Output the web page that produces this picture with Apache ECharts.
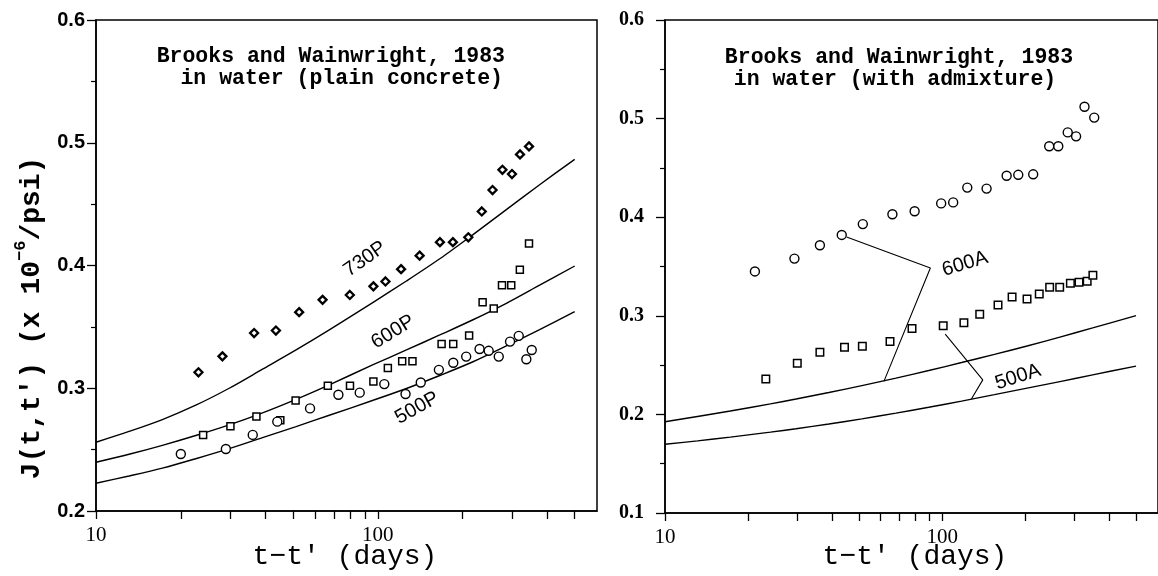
<!DOCTYPE html>
<html><head><meta charset="utf-8">
<script src="https://cdn.jsdelivr.net/npm/echarts@6/dist/echarts.min.js"></script>
<style>html,body{margin:0;padding:0;background:#fff}#c{width:1158px;height:576px}</style>
</head><body><div id="c"></div>
<script>
// ---------- Left panel: plain concrete ----------
const p730X = [23.1, 28.1, 36.4, 43.5, 52.6, 63.7, 79.6, 96.5, 106.5, 121, 140.8, 166.2, 184.8, 209.6, 234, 255.5, 277, 299.5, 319.8, 344.2];
const p730Y = [0.313, 0.326, 0.345, 0.347, 0.362, 0.372, 0.376, 0.383, 0.387, 0.397, 0.408, 0.419, 0.419, 0.423, 0.444, 0.4615, 0.478, 0.4745, 0.4905, 0.497];
const p600X = [24.0, 30.0, 37.1, 45.1, 51.1, 66.5, 79.7, 96.5, 108.6, 122.1, 132.8, 168.5, 185.3, 211, 235.6, 258, 276, 297.7, 319.4, 344.2];
const p600Y = [0.262, 0.269, 0.277, 0.274, 0.290, 0.302, 0.302, 0.3055, 0.3165, 0.322, 0.322, 0.336, 0.336, 0.343, 0.370, 0.365, 0.384, 0.384, 0.3965, 0.418];
const p500X = [20.0, 28.9, 36.0, 44.0, 57.5, 72.5, 86.3, 105.5, 125.5, 142.1, 164.8, 185.4, 206, 229.8, 247.6, 268.8, 294.8, 316.5, 336.8, 352];
const p500Y = [0.2464, 0.2505, 0.262, 0.2728, 0.2836, 0.2947, 0.2964, 0.3034, 0.2953, 0.3047, 0.315, 0.3208, 0.3258, 0.332, 0.3305, 0.3258, 0.338, 0.3427, 0.3236, 0.3312];

const curveLX = [10, 13.1, 17.2, 22.6, 29.7, 39, 51.3, 67.3, 96.3, 126.4, 166, 217.8, 286, 375.4, 500];
const c730 = [0.256, 0.2648, 0.2745, 0.2862, 0.3000, 0.3155, 0.3312, 0.3475, 0.3700, 0.3874, 0.4055, 0.4252, 0.4455, 0.4658, 0.4865];
const c600 = [0.2397, 0.2462, 0.2535, 0.2615, 0.2702, 0.2800, 0.2910, 0.3028, 0.3192, 0.3312, 0.3434, 0.3558, 0.3692, 0.3840, 0.3996];
const c500 = [0.2226, 0.2285, 0.2349, 0.2426, 0.2508, 0.2598, 0.2688, 0.2780, 0.2902, 0.2998, 0.3104, 0.3216, 0.3345, 0.3478, 0.3625];

// ---------- Right panel: with admixture ----------
const a600X = [21.1, 29.3, 36.2, 43.4, 51.7, 66.1, 79.5, 99.1, 109.5, 123.1, 144.5, 170.7, 188, 212.8, 243.1, 262.1, 283.5, 303.9, 325.9, 353.3];
const a600Y = [0.345, 0.358, 0.3715, 0.382, 0.393, 0.403, 0.406, 0.414, 0.415, 0.430, 0.429, 0.442, 0.443, 0.4435, 0.472, 0.472, 0.486, 0.482, 0.512, 0.501];
const a500X = [23.1, 30.0, 36.2, 44.4, 51.5, 64.8, 77.8, 100.8, 119.7, 136.5, 158.9, 178.6, 202.2, 223.8, 244, 265.2, 289.8, 311.4, 333.2, 349.4];
const a500Y = [0.236, 0.252, 0.263, 0.268, 0.269, 0.274, 0.287, 0.290, 0.293, 0.3015, 0.311, 0.319, 0.317, 0.322, 0.329, 0.329, 0.333, 0.334, 0.335, 0.341];

const curveRX = [10, 13.1, 17.2, 24, 29.7, 39, 51.3, 68.1, 89.4, 117.4, 154.2, 202.3, 265.7, 348.8, 500];
const cA600 = [0.1926, 0.1979, 0.2035, 0.2107, 0.2156, 0.2222, 0.2292, 0.2368, 0.2445, 0.2526, 0.2609, 0.2694, 0.2784, 0.2877, 0.3002];
const cA500 = [0.1697, 0.1732, 0.1770, 0.1820, 0.1855, 0.1903, 0.1955, 0.2013, 0.2072, 0.2135, 0.2200, 0.2266, 0.2333, 0.2401, 0.2490];

// leader lines of the labels 600A / 500A (data coordinates)
const lead600X = [45.2, 90.6, 61.6];
const lead600Y = [0.380, 0.3485, 0.2335];
const lead500X = [102.5, 140.0, 127.4];
const lead500Y = [0.2815, 0.2350, 0.2156];

// axis ticks
const xTickDays = [10, 20, 30, 40, 50, 60, 70, 80, 90, 100, 200, 300, 400, 500];
const xLabelDays = [10, 100];
const xMaxDays = 600;

// ---------- chart ----------
const zip = (xs, ys) => xs.map((x, i) => [x, ys[i]]);
const BLACK = '#000';
const chart = echarts.init(document.getElementById('c'), null, {renderer: 'canvas'});

function logX(grid) {
  return {
    type: 'log', logBase: 10, gridIndex: grid, min: 10, max: xMaxDays,
    axisLine: {show: true, onZero: false, lineStyle: {color: BLACK, width: 1.5}},
    axisTick: {show: false}, minorTick: {show: false},
    splitLine: {show: false}, minorSplitLine: {show: false},
    axisLabel: {
      show: true, margin: 14, color: BLACK, fontFamily: 'Liberation Serif', fontSize: 21,
      showMaxLabel: false,
      formatter: v => xLabelDays.some(d => Math.abs(d - v) < 1e-6) ? String(Math.round(v)) : ''
    }
  };
}
function tickX(grid) {
  return {
    type: 'value', gridIndex: grid, min: Math.log10(10), max: Math.log10(xMaxDays),
    axisLine: {show: false}, splitLine: {show: false}, axisLabel: {show: false},
    axisTick: {show: true, length: 8, customValues: xTickDays.map(d => Math.log10(d)),
      lineStyle: {color: BLACK, width: 1.3}}
  };
}
function valY(grid, min, max, labelFont, margin) {
  return {
    type: 'value', gridIndex: grid, min: min, max: max, interval: 0.1,
    axisLine: {show: true, onZero: false, lineStyle: {color: BLACK, width: 1.5}},
    axisTick: {show: true, length: 9, lineStyle: {color: BLACK, width: 1.3}},
    minorTick: {show: true, splitNumber: 2, length: 5, lineStyle: {color: BLACK, width: 1.2}},
    splitLine: {show: false}, minorSplitLine: {show: false},
    axisLabel: {show: true, margin: margin, color: BLACK, fontWeight: 'bold',
      fontFamily: labelFont, fontSize: 20, formatter: v => v.toFixed(1)}
  };
}
const hidY = g => ({type: 'value', gridIndex: g, min: 0, max: 1, show: false});

function curve(xi, xs, ys) {
  return {type: 'line', xAxisIndex: xi, yAxisIndex: xi, data: zip(xs, ys), showSymbol: false,
    symbol: 'none', smooth: 0.3, lineStyle: {color: BLACK, width: 1.4}, silent: true, z: 3};
}
function leader(xi, xs, ys) {
  return {type: 'line', xAxisIndex: xi, yAxisIndex: xi, data: zip(xs, ys), showSymbol: false,
    symbol: 'none', lineStyle: {color: BLACK, width: 1.1}, silent: true, z: 3};
}
function pts(xi, xs, ys, symbol, size, bw) {
  return {type: 'scatter', xAxisIndex: xi, yAxisIndex: xi, data: zip(xs, ys), symbol: symbol,
    symbolSize: size, itemStyle: {color: '#fff', borderColor: BLACK, borderWidth: bw, opacity: 1},
    silent: true, z: 4};
}
function txt(x, y, text, font, rotDeg, align) {
  return {type: 'text', x: x, y: y, rotation: (rotDeg || 0) * Math.PI / 180, z: 10,
    style: {text: text, font: font, fill: BLACK, align: align || 'center', verticalAlign: 'middle'}};
}

const titleFont = 'bold 21.5px "Liberation Mono"';
const nameFont = '28px "Liberation Mono"';
const curveFont = '20px "Liberation Sans"';

const option = {
  animation: false,
  backgroundColor: '#fff',
  grid: [
    {left: 96, top: 20, width: 501, height: 491, show: true, borderColor: BLACK, borderWidth: 1.5, backgroundColor: 'transparent'},
    {left: 665, top: 20, width: 501, height: 493, show: true, borderColor: BLACK, borderWidth: 1.5, backgroundColor: 'transparent'},
    {left: 96, top: 20, width: 501, height: 491, show: false},
    {left: 665, top: 20, width: 501, height: 493, show: false}
  ],
  xAxis: [logX(0), logX(1), tickX(2), tickX(3)],
  yAxis: [valY(0, 0.2, 0.6, '"Liberation Sans"', 11), valY(1, 0.1, 0.6, '"Liberation Serif"', 21), hidY(2), hidY(3)],
  series: [
    curve(0, curveLX, c730), curve(0, curveLX, c600), curve(0, curveLX, c500),
    pts(0, p730X, p730Y, 'diamond', 8, 2.3),
    pts(0, p600X, p600Y, 'rect', 7, 1.5),
    pts(0, p500X, p500Y, 'circle', 9, 1.4),
    curve(1, curveRX, cA600), curve(1, curveRX, cA500),
    leader(1, lead600X, lead600Y), leader(1, lead500X, lead500Y),
    pts(1, a600X, a600Y, 'circle', 9, 1.4),
    pts(1, a500X, a500Y, 'rect', 7.5, 1.5)
  ],
  graphic: [
    txt(505, 57, 'Brooks and Wainwright, 1983', titleFont, 0, 'right'),
    txt(503, 79, 'in water (plain concrete)', titleFont, 0, 'right'),
    txt(899, 58, 'Brooks and Wainwright, 1983', titleFont, 0, 'center'),
    txt(895, 80, 'in water (with admixture)', titleFont, 0, 'center'),
    txt(345, 557, 't\u2212t\' (days)', nameFont, 0, 'center'),
    txt(915, 557, 't\u2212t\' (days)', nameFont, 0, 'center'),
    {type: 'text', x: 29, y: 318, rotation: Math.PI / 2, z: 10,
      style: {text: '{n|J(t,t\') (x 10}{s|\u22126}{n|/psi)}', fill: BLACK, align: 'center', verticalAlign: 'middle',
        rich: {n: {fontFamily: 'Liberation Mono', fontWeight: 'bold', fontSize: 28, fill: BLACK, verticalAlign: 'bottom', lineHeight: 34},
               s: {fontFamily: 'Liberation Mono', fontWeight: 'bold', fontSize: 17, fill: BLACK, verticalAlign: 'top', lineHeight: 34}}}},
    txt(365, 259, '730P', curveFont, 35),
    txt(393, 332, '600P', curveFont, 32),
    txt(417, 408, '500P', curveFont, 29),
    txt(965, 264, '600A', curveFont, 17),
    txt(1018, 377, '500A', curveFont, 18)
  ]
};
chart.setOption(option);
</script></body></html>
